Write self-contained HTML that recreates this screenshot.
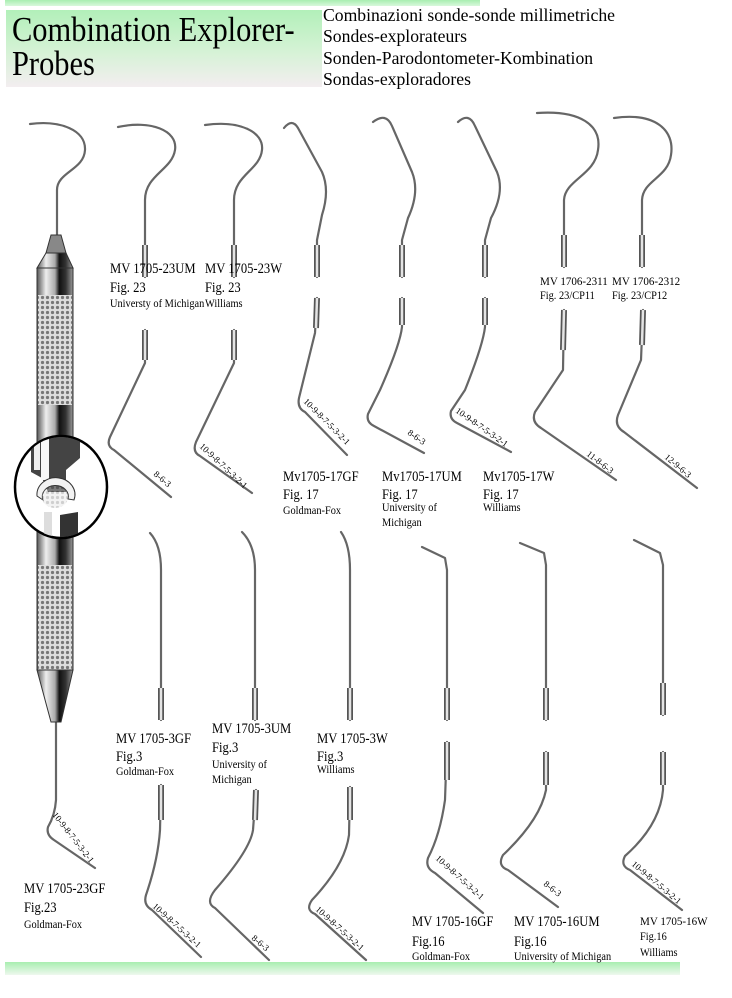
<!DOCTYPE html>
<html><head><meta charset="utf-8"><style>
body{margin:0;background:#fff;width:732px;height:998px;overflow:hidden;position:relative;font-family:"Liberation Serif",serif;color:#000}
.t{position:absolute;white-space:nowrap;line-height:1;transform-origin:0 0;transform:scaleX(.84)}
.a{font-size:15px}.b{font-size:15px}.c{font-size:11.5px;transform:scaleX(.9)}
.h{position:absolute;white-space:nowrap;line-height:1;font-size:18px;transform-origin:0 0;transform:scaleX(.98)}
</style></head><body>
<div style="position:absolute;left:5px;top:0;width:475px;height:6px;background:linear-gradient(#a8eeb0,#d8f8dc)"></div>
<div style="position:absolute;left:6px;top:10px;width:316px;height:77px;background:linear-gradient(#b2f0b9,#d6f2d6 55%,#f3eef0)"></div>
<div class="t" style="left:12px;top:12px;font-size:35px;transform:scaleX(.87)">Combination Explorer-</div>
<div class="t" style="left:12px;top:46px;font-size:35px;transform:scaleX(.87)">Probes</div>
<div class="h" style="left:323px;top:6px">Combinazioni sonde-sonde millimetriche</div>
<div class="h" style="left:323px;top:27px">Sondes-explorateurs</div>
<div class="h" style="left:323px;top:49px">Sonden-Parodontometer-Kombination</div>
<div class="h" style="left:323px;top:70px">Sondas-exploradores</div>
<div style="position:absolute;left:5px;top:962px;width:675px;height:13px;background:linear-gradient(#a8eeb0,#eef8ee)"></div>

<svg width="732" height="998" style="position:absolute;left:0;top:0">
<defs>
<pattern id="k" width="5" height="5" patternUnits="userSpaceOnUse"><rect width="5" height="5" fill="#ddd"/><circle cx="2.5" cy="2.5" r="1.6" fill="#777"/></pattern>
<linearGradient id="h" x1="0" x2="1"><stop offset="0" stop-color="#555"/><stop offset=".25" stop-color="#eee"/><stop offset=".5" stop-color="#aaa"/><stop offset=".62" stop-color="#111"/><stop offset=".8" stop-color="#333"/><stop offset="1" stop-color="#999"/></linearGradient>
<clipPath id="cc"><ellipse cx="61" cy="487" rx="45" ry="50"/></clipPath>
</defs>
<g fill="none" stroke="#666" stroke-width="2.2" stroke-linecap="round" stroke-linejoin="round">
<path d="M30,124 C60,120 86,130 85,150 C84,170 57,172 57,190 L57,245"/>
<path d="M118,127 C150,120 178,130 175,150 C172,170 145,175 145,200 L145,277"/>
<path d="M145,330 L145,363 L110,437 Q106,446 114,450 L171,497"/>
<path d="M205,125 C240,120 264,132 262,150 C260,170 234,175 234,200 L234,277"/>
<path d="M234,330 L234,363 L196,442 Q192,452 200,456 L252,493"/>
<path d="M284,128 Q292,118 298,128 L322,172 Q330,190 322,215 L317,240 L317,277"/>
<path d="M317,298 L315,333 L299,398 Q297,408 305,412 L347,455"/>
<path d="M373,122 Q386,112 392,126 L412,172 Q420,192 408,218 L402,240 L402,277"/>
<path d="M402,298 L402,327 Q400,345 380,390 L368,414 Q366,422 374,426 L424,453"/>
<path d="M458,122 Q469,112 475,126 L497,172 Q505,192 491,218 L485,240 L485,277"/>
<path d="M485,298 L485,327 Q483,345 465,390 L451,411 Q449,419 457,423 L511,452"/>
<path d="M537,113 C580,110 602,125 598,150 C595,175 565,180 564,200 L564,267"/>
<path d="M564,310 L563,370 L535,412 Q531,422 541,428 L616,480"/>
<path d="M614,118 C655,112 675,130 671,155 C668,178 643,180 642,200 L642,267"/>
<path d="M643,310 L641,360 L618,415 Q614,426 624,432 L697,488"/>
<path d="M150,533 Q161,545 161,570 L161,720"/>
<path d="M161,785 L160,830 Q158,860 146,895 Q143,905 152,910 L201,957"/>
<path d="M242,532 Q255,545 255,570 L255,720"/>
<path d="M256,790 L253,830 Q250,850 215,890 Q205,903 215,908 L269,960"/>
<path d="M341,532 Q350,545 350,570 L350,720"/>
<path d="M350,787 L349,835 Q345,865 312,900 Q305,910 315,914 L366,960"/>
<path d="M422,547 L445,558 L447,570 L447,720"/>
<path d="M447,742 L445,800 Q440,835 428,858 Q425,868 435,873 L483,913"/>
<path d="M520,543 L544,553 L546,565 L546,720"/>
<path d="M546,752 L546,790 Q540,820 503,855 Q497,866 508,870 L558,907"/>
<path d="M634,540 L660,553 L663,565 L663,715"/>
<path d="M663,752 L663,790 Q660,825 625,856 Q620,866 630,870 L682,910"/>
<path d="M56,722 L56,800 Q55,815 48,827 Q46,835 54,840 L95,868"/>
</g>
<g stroke-linecap="butt" fill="none">
<path stroke="#555" stroke-width="6" d="M145,245 L145,277 M145,330 L145,360 M234,245 L234,277 M234,330 L234,360 M317,245 L317,277 M317,298 L316,328 M402,245 L402,277 M402,298 L402,325 M485,245 L485,277 M485,298 L485,325 M564,235 L564,267 M564,310 L563,350 M642,235 L642,267 M643,310 L642,345 M161,688 L161,720 M161,785 L161,820 M255,688 L255,720 M256,790 L255,820 M350,688 L350,720 M350,787 L350,820 M447,688 L447,720 M447,742 L447,780 M546,688 L546,720 M546,752 L546,785 M663,683 L663,715 M663,752 L663,785"/>
<path stroke="#e4e4e4" stroke-width="2.5" d="M145,245 L145,277 M145,330 L145,360 M234,245 L234,277 M234,330 L234,360 M317,245 L317,277 M317,298 L316,328 M402,245 L402,277 M402,298 L402,325 M485,245 L485,277 M485,298 L485,325 M564,235 L564,267 M564,310 L563,350 M642,235 L642,267 M643,310 L642,345 M161,688 L161,720 M161,785 L161,820 M255,688 L255,720 M256,790 L255,820 M350,688 L350,720 M350,787 L350,820 M447,688 L447,720 M447,742 L447,780 M546,688 L546,720 M546,752 L546,785 M663,683 L663,715 M663,752 L663,785"/>
</g>
<path d="M51,235 L61,235 L66,253 L46,253 Z" fill="#888" stroke="#333"/>
<path d="M46,253 L66,253 L73,268 L37,268 Z" fill="url(#h)" stroke="#333"/>
<rect x="37" y="268" width="36" height="402" fill="url(#h)" stroke="#333"/>
<rect x="38" y="295" width="34" height="110" fill="url(#k)"/>
<rect x="38" y="565" width="34" height="105" fill="url(#k)"/>
<path d="M37,670 L73,670 L61,722 L51,722 Z" fill="url(#h)" stroke="#333"/>
<ellipse cx="61" cy="487" rx="46" ry="51" fill="#fff" stroke="#000" stroke-width="2.5"/>
<g clip-path="url(#cc)">
<path d="M31,430 L80,430 L80,458 L66,470 L66,492 L48,492 L42,478 L31,472 Z" fill="#444"/>
<rect x="34" y="430" width="6" height="40" fill="#eee"/>
<rect x="41" y="430" width="8" height="50" fill="#f8f8f8"/>
<path d="M60,515 L78,512 L78,545 L60,545 Z" fill="#333"/>
<rect x="44" y="512" width="8" height="33" fill="#ddd"/>
<path d="M37,496 A19,17 0 1 1 74,500 L68,499 A13,11 0 1 0 43,500 Z" fill="#f2f2f2" stroke="#333"/>
<ellipse cx="55" cy="497" rx="13" ry="11" fill="url(#k)" opacity=".35"/>
</g>
<g font-family="Liberation Serif" font-size="9" fill="#000">
<text transform="translate(52,815) rotate(52)">10-9-8-7-5-3-2-1</text>
<text transform="translate(153,475) rotate(40)">8-6-3</text>
<text transform="translate(199,447) rotate(43)">10-9-8-7-5-3-2-1</text>
<text transform="translate(303,402) rotate(45)">10-9-8-7-5-3-2-1</text>
<text transform="translate(407,434) rotate(35)">8-6-3</text>
<text transform="translate(455,412) rotate(35)">10-9-8-7-5-3-2-1</text>
<text transform="translate(586,455) rotate(38)">11-8-6-3</text>
<text transform="translate(664,458) rotate(40)">12-9-6-3</text>
<text transform="translate(152,907) rotate(42)">10-9-8-7-5-3-2-1</text>
<text transform="translate(251,939) rotate(40)">8-6-3</text>
<text transform="translate(315,910) rotate(42)">10-9-8-7-5-3-2-1</text>
<text transform="translate(435,859) rotate(42)">10-9-8-7-5-3-2-1</text>
<text transform="translate(543,885) rotate(38)">8-6-3</text>
<text transform="translate(631,865) rotate(40)">10-9-8-7-5-3-2-1</text>
</g>
</svg>

<div class="t a" style="left:110px;top:262px">MV 1705-23UM</div><div class="t b" style="left:110px;top:281px">Fig. 23</div><div class="t c" style="left:110px;top:299px">Universty of Michigan</div>
<div class="t a" style="left:205px;top:262px">MV 1705-23W</div><div class="t b" style="left:205px;top:281px">Fig. 23</div><div class="t c" style="left:205px;top:299px">Williams</div>
<div class="t" style="left:540px;top:275px;font-size:12px;transform:scaleX(.92)">MV 1706-2311</div><div class="t c" style="left:540px;top:291px">Fig. 23/CP11</div>
<div class="t" style="left:612px;top:275px;font-size:12px;transform:scaleX(.92)">MV 1706-2312</div><div class="t c" style="left:612px;top:291px">Fig. 23/CP12</div>
<div class="t a" style="left:283px;top:470px">Mv1705-17GF</div><div class="t b" style="left:283px;top:488px">Fig. 17</div><div class="t c" style="left:283px;top:506px">Goldman-Fox</div>
<div class="t a" style="left:382px;top:470px">Mv1705-17UM</div><div class="t b" style="left:382px;top:488px">Fig. 17</div><div class="t c" style="left:382px;top:503px">University of</div><div class="t c" style="left:382px;top:518px">Michigan</div>
<div class="t a" style="left:483px;top:470px">Mv1705-17W</div><div class="t b" style="left:483px;top:488px">Fig. 17</div><div class="t c" style="left:483px;top:503px">Williams</div>
<div class="t a" style="left:116px;top:732px">MV 1705-3GF</div><div class="t b" style="left:116px;top:750px">Fig.3</div><div class="t c" style="left:116px;top:767px">Goldman-Fox</div>
<div class="t a" style="left:212px;top:722px">MV 1705-3UM</div><div class="t b" style="left:212px;top:741px">Fig.3</div><div class="t c" style="left:212px;top:760px">University of</div><div class="t c" style="left:212px;top:775px">Michigan</div>
<div class="t a" style="left:317px;top:732px">MV 1705-3W</div><div class="t b" style="left:317px;top:750px">Fig.3</div><div class="t c" style="left:317px;top:765px">Williams</div>
<div class="t a" style="left:24px;top:882px">MV 1705-23GF</div><div class="t b" style="left:24px;top:901px">Fig.23</div><div class="t c" style="left:24px;top:920px">Goldman-Fox</div>
<div class="t a" style="left:412px;top:915px">MV 1705-16GF</div><div class="t b" style="left:412px;top:935px">Fig.16</div><div class="t c" style="left:412px;top:952px">Goldman-Fox</div>
<div class="t a" style="left:514px;top:915px">MV 1705-16UM</div><div class="t b" style="left:514px;top:935px">Fig.16</div><div class="t c" style="left:514px;top:952px">University of Michigan</div>
<div class="t" style="left:640px;top:915px;font-size:12px;transform:scaleX(.92)">MV 1705-16W</div><div class="t c" style="left:640px;top:932px">Fig.16</div><div class="t c" style="left:640px;top:948px">Williams</div>
</body></html>
